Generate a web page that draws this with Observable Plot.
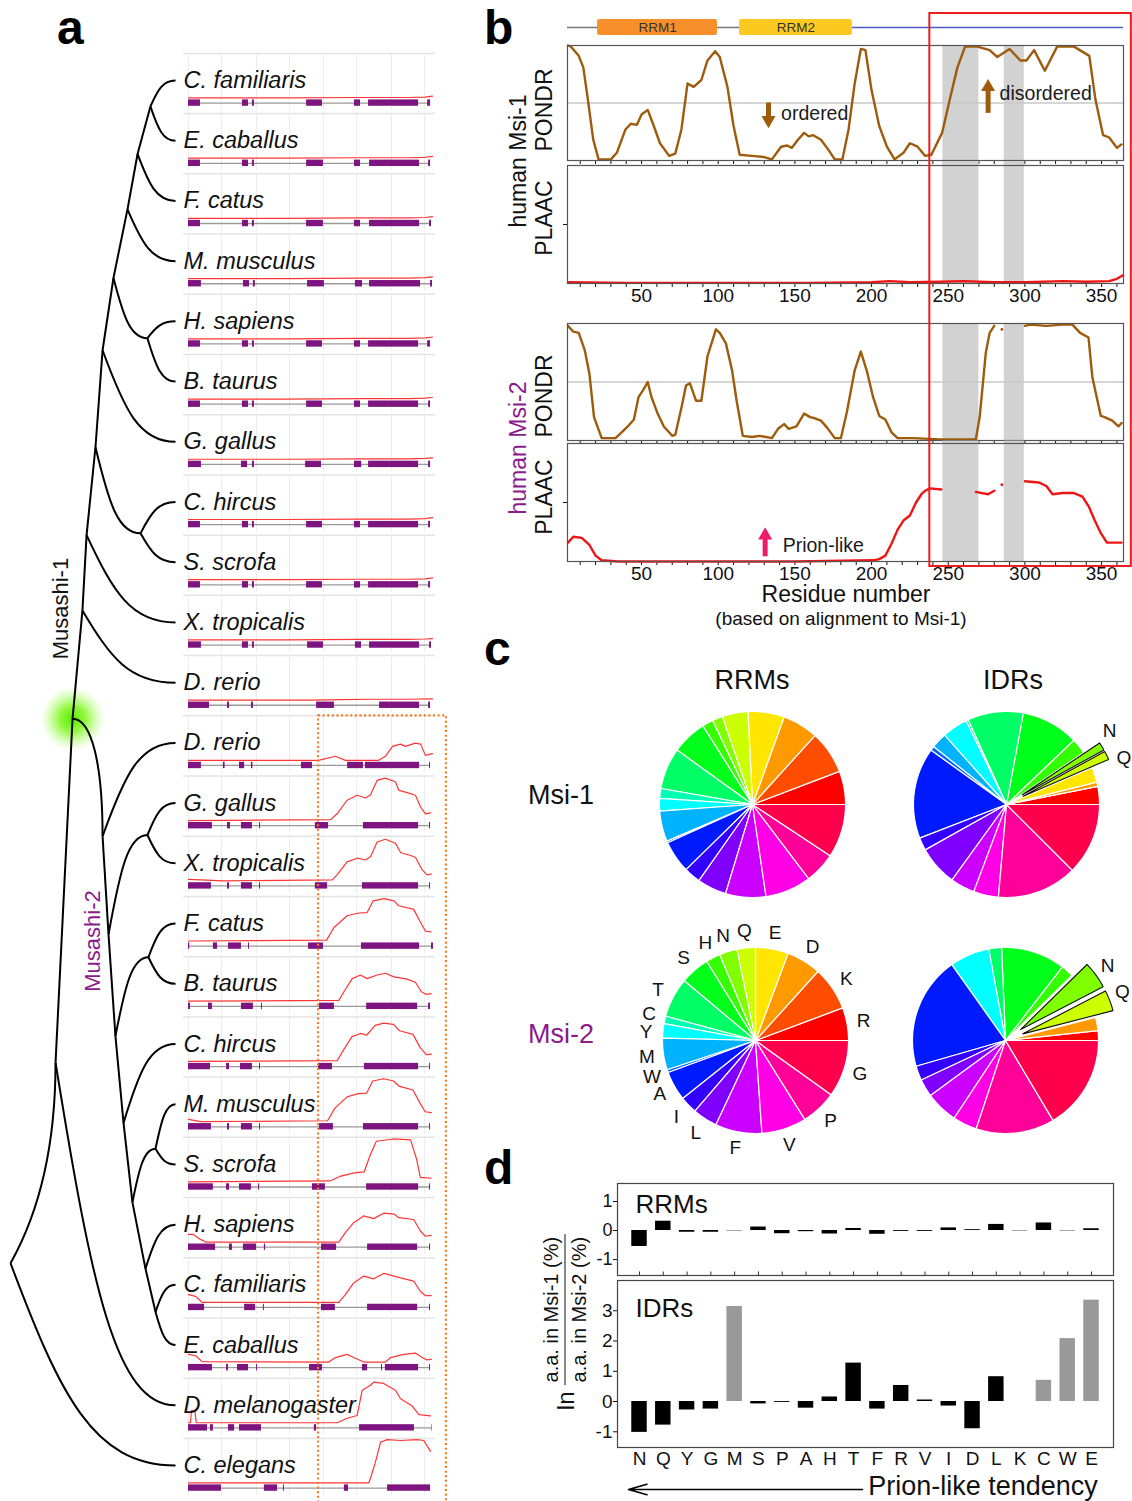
<!DOCTYPE html>
<html><head><meta charset="utf-8">
<script src="https://cdn.jsdelivr.net/npm/d3@7"></script>
<script src="https://cdn.jsdelivr.net/npm/@observablehq/plot@0.6"></script>
<style>
body{margin:0;background:#fff;}
#fig{position:relative;width:1132px;height:1501px;overflow:hidden;font-family:"Liberation Sans",Arial,Helvetica,sans-serif;background:#fff;color:#111;}
#fig svg{background:transparent !important;max-width:none !important;overflow:visible;}
</style></head><body><div id="fig"></div>
<script>
// ---------------- DATA ----------------
// Panel a: species (rows, top to bottom)
const speciesNames = ["C. familiaris","E. caballus","F. catus","M. musculus","H. sapiens","B. taurus","G. gallus","C. hircus","S. scrofa","X. tropicalis","D. rerio",
  "D. rerio","G. gallus","X. tropicalis","F. catus","B. taurus","C. hircus","M. musculus","S. scrofa","H. sapiens","C. familiaris","E. caballus","D. melanogaster","C. elegans"];
// tree internal nodes: depth (0 root .. 1 leaves), row position
const treeNodes = [
  {id:"root",depth:0,row:19.64},{id:"N1",depth:0.273,row:16.31},{id:"msi",depth:0.376,row:10.6},
  {id:"m1H",depth:0.436,row:8.8},{id:"m1G",depth:0.461,row:7.55},{id:"m1F",depth:0.515,row:6.09},{id:"m1E",depth:0.558,row:4.48},
  {id:"m1D",depth:0.624,row:3.28},{id:"m1C",depth:0.709,row:2.14},{id:"m1B",depth:0.770,row:1.22},{id:"m1A",depth:0.848,row:0.43},
  {id:"m1HB",depth:0.830,row:4.28},{id:"m1CS",depth:0.788,row:7.52},
  {id:"m2DR",depth:0.558,row:12.55},{id:"m2GX",depth:0.594,row:14.18},{id:"m2GXc",depth:0.830,row:12.53},
  {id:"m2FB",depth:0.636,row:15.87},{id:"m2FBc",depth:0.836,row:14.56},{id:"m2CH",depth:0.685,row:17.31},
  {id:"m2MS",depth:0.739,row:18.63},{id:"m2MSc",depth:0.879,row:17.74},{id:"m2HS",depth:0.818,row:19.73},{id:"m2CE",depth:0.879,row:20.45}
];
// edges: [from, to (node id or leaf row), kind]
const treeEdges = [
  ["root","N1","up"],["root",23,"leaf"],["N1","msi","straight"],["N1",22,"leaf"],
  ["msi","m1H","straight"],["m1H","m1G","straight"],["m1G","m1F","straight"],["m1F","m1E","straight"],["m1E","m1D","straight"],
  ["m1D","m1C","straight"],["m1C","m1B","straight"],["m1B","m1A","straight"],
  ["m1A",0,"leaf"],["m1A",1,"leaf"],["m1B",2,"leaf"],["m1C",3,"leaf"],["m1D","m1HB","leaf"],["m1HB",4,"leaf"],["m1HB",5,"leaf"],
  ["m1E",6,"leaf"],["m1F","m1CS","leaf"],["m1CS",7,"leaf"],["m1CS",8,"leaf"],["m1G",9,"leaf"],["m1H",10,"leaf"],
  ["msi","m2DR","arc"],["m2DR","m2GX","straight"],["m2GX","m2FB","straight"],["m2FB","m2CH","straight"],["m2CH","m2MS","straight"],
  ["m2MS","m2HS","straight"],["m2HS","m2CE","straight"],
  ["m2DR",11,"leaf"],["m2GX","m2GXc","leaf"],["m2GXc",12,"leaf"],["m2GXc",13,"leaf"],["m2FB","m2FBc","leaf"],["m2FBc",14,"leaf"],["m2FBc",15,"leaf"],
  ["m2CH",16,"leaf"],["m2MS","m2MSc","leaf"],["m2MSc",17,"leaf"],["m2MSc",18,"leaf"],["m2HS",19,"leaf"],["m2CE",20,"leaf"],["m2CE",21,"leaf"]
];
const cladeLabels = [{name:"Musashi-1",depth:0.303,row:8.77},{name:"Musashi-2",depth:0.497,row:14.29}];
// gene structures: exons [start,end] in % of gene length
const exons = [
  [[0,4.9],[22.1,24.6],[26.2,27],[48.4,54.9],[68,70.5],[73.8,94.3],[98,99.2]],
  [[0,4.9],[22.1,24.6],[26.2,27],[48.4,55.3],[68,70.5],[74.2,94.7],[98.4,99.2]],
  [[0,4.9],[22.1,24.6],[26.2,27],[48.4,55.3],[68,70.5],[74.2,94.7],[98.8,99.6]],
  [[0,5.3],[22.5,25],[26.6,27.4],[48.8,55.7],[68.4,71.3],[74.2,95.1],[99.2,100]],
  [[0,4.9],[22.1,24.6],[26.2,27],[48.4,54.9],[68,70.5],[73.8,94.3],[98,99.2]],
  [[0,4.9],[22.1,24.6],[26.2,27],[48.4,54.9],[68,70.5],[73.8,94.3],[98.4,99.2]],
  [[0,5.3],[21.7,24.2],[26.2,27],[48,54.5],[68,71],[73.8,94.3],[98.4,99.2]],
  [[0,4.9],[22.1,24.6],[26.2,27],[48.4,54.9],[68,70.5],[73.8,94.3],[98.4,99.2]],
  [[0,4.9],[22.1,24.6],[26.2,27],[48.4,54.9],[68,70.5],[73.8,94.3],[98.4,99.2]],
  [[0,5.3],[22.1,24.6],[26.2,27],[48.8,55.3],[68.4,70.9],[74.2,94.7],[98.8,99.6]],
  [[0,8.6],[16,16.8],[25.8,26.6],[52.5,59.8],[78.3,94.7],[98.4,99.2]],
  [[0,5.3],[14.3,15],[20.9,23],[25.8,26.4],[46.3,50.8],[65.2,71.7],[72.5,94.7],[98.8,99.2]],
  [[0,9.8],[16,17.2],[21.7,26.2],[29.1,29.5],[52,57.4],[71.7,94.3],[98.8,99.2]],
  [[0,9.4],[16,16.8],[21.7,26.2],[29.1,29.5],[52,57],[71.3,94.3],[98.8,99.2]],
  [[0,0.5],[10.2,11.9],[16.4,21.7],[24.6,25],[49.2,55.3],[70.9,94.7],[99.6,100.4]],
  [[0,0.8],[8.2,9.8],[21.7,26.6],[29.9,30.3],[53.7,59.8],[73,93.9],[98.4,99.2]],
  [[0,9],[15.6,16.8],[21.3,26.2],[29.1,29.5],[53.3,59],[72.1,94.3],[98.8,99.2]],
  [[0,9.4],[16,16.8],[21.7,26.2],[29.1,29.5],[53.7,59.4],[71.7,94.3],[98.8,99.2]],
  [[0,10.2],[15.6,16.8],[20.9,25.8],[28.7,29.1],[50.8,56.1],[73,94.3],[98.8,99.2]],
  [[0,11.1],[16.8,18],[22.5,27.9],[31.1,31.6],[54.5,60.7],[73.4,93.9],[98.8,99.2]],
  [[0,6.6],[23,27.5],[30.7,31.1],[54.5,60.2],[73.4,93.9],[98.8,99.2]],
  [[0,9.8],[15.6,16.4],[20.1,24.6],[27.9,28.3],[49.6,54.9],[71.3,73.4],[79.1,79.5],[80.7,94.3],[98.8,99.2]],
  [[0,7.8],[9,10.2],[16.4,18.9],[20.9,29.9],[51.6,52.5],[70.1,92.6],[99.6,99.8]],
  [[0,13.5],[31.1,36.5],[38.9,39.3],[63.9,65.6],[81.6,99.2]]
];
// PLAAC-like profile per row: [position %, relative height]
const profiles = [
  [[0,0],[40,0],[70,0.01],[90,0.01],[97,0.02],[100,0.04]],
  [[0,0],[40,0],[70,0.01],[90,0.01],[97,0.02],[100,0.04]],
  [[0,0],[40,0],[70,0.01],[90,0.01],[97,0.02],[100,0.04]],
  [[0,0],[40,0],[70,0.01],[90,0.01],[97,0.02],[100,0.04]],
  [[0,0],[40,0],[70,0.01],[90,0.01],[97,0.02],[100,0.04]],
  [[0,0],[40,0],[70,0.01],[90,0.01],[97,0.02],[100,0.04]],
  [[0,0],[40,0],[70,0.01],[90,0.01],[97,0.02],[100,0.03]],
  [[0,0],[40,0],[70,0.01],[90,0.01],[97,0.02],[100,0.04]],
  [[0,0],[40,0],[70,0.01],[90,0.01],[97,0.02],[100,0.04]],
  [[0,0],[40,0],[70,0.01],[90,0.01],[97,0.02],[100,0.03]],
  [[0,0],[50,0],[62,0.01],[75,0.02],[90,0.02],[100,0.03]],
  [[0,0],[53.3,0],[60.2,0.09],[64.3,0],[77.9,0],[80.7,0.09],[83.6,0.31],[86.9,0.36],[88.9,0.31],[93,0.38],[95.1,0.36],[97.1,0.11],[100,0.15]],
  [[0,0],[58.2,0.02],[60.9,0.15],[65,0.45],[69.1,0.56],[72.5,0.5],[74.6,0.57],[77.3,0.89],[80.7,0.94],[84.8,0.86],[86.2,0.67],[89.6,0.62],[93,0.56],[95.1,0.3],[97.1,0.15],[99.2,0.17]],
  [[0,0.03],[5,0.02],[14.3,0],[58.9,0.02],[60.9,0.13],[65,0.42],[69.1,0.5],[72.5,0.46],[74.6,0.53],[77.3,0.86],[80.7,0.92],[84.8,0.83],[87,0.62],[90.4,0.57],[93,0.52],[95.8,0.24],[97.8,0.13],[99.6,0.15]],
  [[0,0],[56.6,0.02],[59.6,0.3],[65,0.56],[69.8,0.62],[73.2,0.63],[75.7,0.89],[80.1,0.94],[84.2,0.89],[86.2,0.78],[92.3,0.7],[95.1,0.41],[97.1,0.22],[99.5,0.2]],
  [[0,0],[61.6,0.02],[63.7,0.21],[67.1,0.5],[70.5,0.58],[73.2,0.5],[77.3,0.58],[80.7,0.62],[84.2,0.54],[89.6,0.49],[93,0.42],[95.4,0.21],[97.5,0.15],[99.5,0.17]],
  [[0,0],[61,0.02],[63.5,0.25],[67,0.55],[70.5,0.62],[73,0.58],[76.5,0.8],[80,0.85],[84,0.82],[86.5,0.68],[92,0.6],[95,0.3],[97.5,0.15],[99.5,0.16]],
  [[0,0.05],[5,0],[57,0.02],[60,0.3],[65,0.55],[69.5,0.62],[73,0.63],[75.5,0.9],[80,0.95],[84,0.9],[86.5,0.78],[92,0.7],[95,0.4],[97,0.22],[99.5,0.2]],
  [[0,0],[58,0.02],[62,0.12],[68,0.2],[72,0.22],[74.5,0.6],[77,0.9],[84,0.95],[91,0.93],[93.5,0.5],[95,0.1],[99.5,0.08]],
  [[0,0.17],[2,0.17],[4.9,0.06],[7,0],[61.6,0],[64.3,0.21],[67.7,0.43],[71.8,0.58],[75.9,0.52],[80,0.64],[84.2,0.62],[86.2,0.54],[92.3,0.5],[95.1,0.24],[97.1,0.13],[99.5,0.15]],
  [[0,0.17],[2.9,0.13],[5.6,0],[61.6,0],[64.3,0.17],[67.7,0.43],[71.8,0.58],[75.9,0.52],[80,0.64],[83.5,0.59],[86.9,0.54],[92.3,0.47],[95.1,0.24],[97.1,0.15],[99.5,0.15]],
  [[0,0.18],[2.9,0.15],[5.6,0.02],[57.5,0.01],[60.2,0.11],[65,0.18],[67.7,0.11],[71.8,0.01],[80.7,0.01],[82.8,0.11],[88.2,0.18],[93,0.21],[95.8,0.11],[97.5,0.06],[99.5,0.07]],
  [[0,0],[0.8,0],[1.2,0.27],[2.6,0.27],[3.2,0],[60.9,0],[65,0.1],[69.1,0.16],[71.2,0.72],[74.6,0.83],[75.9,0.9],[80,0.87],[84.8,0.72],[86.9,0.53],[91.7,0.37],[94.4,0.18],[99.2,0.15]],
  [[0,0],[73.9,0],[74.9,0.16],[76.6,0.46],[78.7,0.9],[81.4,0.96],[86.9,0.94],[93.7,0.96],[96.4,0.94],[99.2,0.7]]
];
const trackGrid = [0,13.5,27.9,41.4,55.3,68.9,83.2,96.7];
const idrBox = {start:53.3, end:105.7, firstRow:10.55, lastRow:23.9};

// Panel b: residue vs score
const pondrMsi1 = [[2,1.0],[4,0.99],[9,0.91],[12,0.81],[15,0.53],[18.5,0.18],[22,0.01],[30,0.01],[34,0.07],[39.5,0.27],[43,0.32],[47,0.31],[50,0.40],[54,0.44],[58,0.30],[62,0.15],[68,0.04],[72,0.06],[76,0.27],[80,0.67],[84,0.64],[89,0.70],[93,0.87],[98,0.95],[101,0.90],[106,0.64],[110,0.30],[114,0.05],[122,0.04],[130,0.03],[135,0.01],[141,0.12],[145,0.13],[148,0.11],[152,0.18],[156,0.24],[159,0.21],[162,0.22],[167,0.18],[172,0.09],[176,0.01],[181,0.01],[185,0.27],[189,0.67],[193,0.97],[196,0.96],[200,0.61],[205,0.30],[210,0.12],[215,0.01],[221,0.07],[225,0.15],[230,0.12],[235,0.04],[239,0.05],[246,0.24],[251,0.53],[256,0.81],[261,0.99],[269,0.99],[277,0.96],[282,0.90],[290,0.97],[297,0.87],[301,0.87],[306,0.96],[313,0.78],[321,0.99],[332,0.99],[342,0.91],[346,0.53],[351,0.22],[355,0.20],[360,0.11],[363,0.14]];
const plaacMsi1 = [[2,0.01],[40,0.005],[100,0.005],[160,0.005],[200,0.01],[212,0.02],[225,0.01],[245,0.015],[260,0.02],[280,0.01],[300,0.01],[325,0.02],[340,0.015],[355,0.02],[360,0.04],[364,0.07]];
const pondrMsi2 = [[2,0.98],[5.5,0.93],[9,0.92],[13,0.77],[16,0.57],[19,0.20],[24,0.02],[33,0.02],[37,0.07],[41,0.12],[45,0.18],[48,0.37],[51,0.43],[54,0.50],[56.5,0.37],[60.5,0.23],[64.5,0.12],[70,0.04],[72,0.05],[76,0.28],[79,0.47],[81.5,0.49],[85.5,0.34],[89,0.34],[93,0.72],[98.5,0.95],[101,0.92],[105,0.83],[109,0.60],[112,0.34],[116,0.04],[122,0.03],[127,0.04],[135,0.02],[139,0.10],[143,0.14],[146,0.10],[151,0.12],[156,0.23],[160,0.20],[163,0.19],[167,0.17],[171,0.11],[176,0.02],[180,0.02],[184,0.25],[189,0.60],[193,0.76],[197,0.59],[201,0.37],[205,0.21],[209,0.18],[213,0.07],[217,0.02],[227,0.02],[245,0.01],[268,0.01],[270.5,0.20],[274.5,0.75],[277,0.92],[280,0.98],[281,null],[285,0.95],[286,null],[300,0.98],[303.5,0.99],[314,0.98],[324.5,0.99],[331,0.99],[336,0.92],[341.5,0.88],[344,0.54],[349.5,0.21],[352,0.20],[357,0.17],[361,0.12],[363,0.15]];
const plaacMsi2 = [[2,0.16],[5.5,0.21],[11,0.20],[16,0.14],[20,0.05],[24,0.01],[35,0],[100,0],[150,0],[201,0.01],[205,0.02],[209,0.05],[213,0.15],[217,0.27],[221,0.35],[225,0.39],[229,0.50],[232.5,0.57],[235,0.60],[238,0.62],[245.5,0.61],[246,null],[268,0.59],[272,0.58],[276,0.57],[280,0.60],[281,null],[285,0.65],[286,null],[300,0.68],[309,0.67],[314,0.64],[318,0.57],[324.5,0.58],[332,0.58],[337.5,0.55],[341.5,0.47],[345.5,0.35],[349.5,0.24],[353.5,0.16],[359,0.16],[363,0.16]];
const domains = [{name:"RRM1",start:21.3,end:99.5},{name:"RRM2",start:113.9,end:187.5}];
const linkerSpan = {start:1.7, end:113.9};
const idrSpan = {start:187.5, end:364.3};
const greyBands = [{start:246.5,end:270},{start:286.5,end:299.6}];
const idrWindow = {start:238, end:369.4};
const bNotes = {
  ordered:{text:"ordered",x:141,y:0.41,ax:132.8,from:0.50,to:0.29},
  disordered:{text:"disordered",x:283.5,y:0.58,ax:276,from:0.41,to:0.70},
  prion:{text:"Prion-like",x:142,y:0.13,ax:130.6,from:0.04,to:0.28}
};

// Panel c: amino-acid composition (%), order R K D E Q N H S T C Y M W A I L F V P G
const aaOrder = ["R","K","D","E","Q","N","H","S","T","C","Y","M","W","A","I","L","F","V","P","G"];
const msi1RRM = [5.8,7.5,6.2,6.3,4.5,1.8,1.9,6.1,7.2,1.7,2.2,5.3,0.3,5.6,2.9,5.1,7.0,8.0,5.4,9.3];
const msi2RRM = [5.7,7.6,6.0,5.7,3.2,3.1,2.5,5.1,6.9,1.3,2.5,5.5,0.5,5.1,3.0,4.3,8.1,7.8,6.2,9.9];
const msi1IDR = [3.1,0,0.75,2.6,1.5,1.4,2.7,9.9,9.6,0.4,4.4,2.7,0.75,15.7,2.2,6.9,4.2,4.3,13.8,12.4];
const msi2IDR = [1.7,0,2.3,0,3.6,4.7,2.2,11.1,2.2,0,6.9,0,0,19.6,2.5,3.1,5.6,4.2,13.6,16.4];
const explodedAA = ["N","Q"];

// Panel d: ln(Msi-1 % / Msi-2 %)
const aaD = ["N","Q","Y","G","M","S","P","A","H","T","F","R","V","I","D","L","K","C","W","E"];
const lnRRM = [-0.55,0.32,-0.06,-0.06,-0.03,0.12,-0.11,-0.04,-0.12,0.07,-0.13,-0.03,-0.03,0.09,0.03,0.21,-0.03,0.26,-0.03,0.06];
const lnIDR = [-1.02,-0.78,-0.28,-0.25,3.14,-0.08,-0.03,-0.22,0.15,1.27,-0.25,0.53,0.05,-0.15,-0.9,0.82,null,0.7,2.08,3.35];
const greyRRM = ["M","K","W"];
const greyIDR = ["M","C","W","E"];

// ---------------- STYLE ----------------
const FONT = '"Liberation Sans", Arial, Helvetica, sans-serif';
const aaPalette = ["#FF0000","#FF4D00","#FF9900","#FFE600","#CCFF00","#80FF00","#33FF00","#00FF1A","#00FF66","#00FFB3","#00FFFF","#00B3FF","#0066FF","#001AFF","#3300FF","#8000FF","#CC00FF","#FF00E6","#FF0099","#FF004D"];
const BROWN = "#9E5B0C", RED = "#EE1515", PURPLE = "#8B1A8B";
const W = 1132;
const fig = document.getElementById("fig");
const baseStyle = (size) => ({fontFamily: FONT, fontSize: size + "px", background: "transparent", overflow: "visible", color: "#111"});

function put(node, left, top) {
  const d = document.createElement("div");
  d.style.cssText = `position:absolute;left:${left}px;top:${top}px;`;
  d.appendChild(node); fig.appendChild(d); return node;
}
function label(text, x, y, size, opts = {}) {
  const d = document.createElement("div");
  d.textContent = text;
  d.style.cssText = `position:absolute;left:${x}px;top:${y}px;font-size:${size}px;white-space:nowrap;line-height:1.1;` +
    `transform:translate(-50%,-50%)${opts.rotate ? ` rotate(${opts.rotate}deg)` : ""};color:${opts.color || "#111"};` +
    (opts.weight ? `font-weight:${opts.weight};` : "");
  fig.appendChild(d); return d;
}
function panelLetter(t, left, top) {
  const d = document.createElement("div");
  d.textContent = t;
  d.style.cssText = `position:absolute;left:${left}px;top:${top}px;font-size:48px;font-weight:bold;line-height:normal;color:#000;`;
  fig.appendChild(d);
}
function bezierCurve(ctrl) {
  return (context) => {
    let pts = [];
    return {
      areaStart() {}, areaEnd() {},
      lineStart() { pts = []; },
      point(x, y) { pts.push([x, y]); },
      lineEnd() {
        if (pts.length < 2) return;
        const [x0, y0] = pts[0], [x1, y1] = pts[pts.length - 1];
        const c = ctrl(x0, y0, x1, y1);
        context.moveTo(x0, y0);
        context.bezierCurveTo(c[0], c[1], c[2], c[3], x1, y1);
      }
    };
  };
}
const sCurve = bezierCurve((x0, y0, x1, y1) => [x0 + 0.3 * (x1 - x0), y0 + 0.65 * (y1 - y0), x0 + 0.5 * (x1 - x0), y1]);
const arcCurve = bezierCurve((x0, y0, x1, y1) => [x0 + 0.65 * (x1 - x0), y0, x1, y1 - 0.6 * (y1 - y0)]);
const upCurve = bezierCurve((x0, y0, x1, y1) => [x0 + 0.5 * (x1 - x0), y0 + 0.2 * (y1 - y0), x1, y1 - 0.5 * (y1 - y0)]);

// ---------------- PANEL A ----------------
const nodeById = new Map(treeNodes.map(n => [n.id, n]));
const posOf = k => typeof k === "number" ? {depth: 1, row: k} : nodeById.get(k);
const edges = treeEdges.map(([a, b, kind]) => ({kind, x1: posOf(a).depth, y1: posOf(a).row, x2: posOf(b).depth, y2: posOf(b).row}));
const linkOpts = {x1: "x1", y1: "y1", x2: "x2", y2: "y2", stroke: "#000", strokeWidth: 2};
const rows = speciesNames.map((name, row) => ({name, row, end: d3.max(exons[row], e => e[1])}));

const treePlot = Plot.plot({
  width: 450, height: 1501, margin: 0,
  x: {domain: [0, 1], range: [10, 175], axis: null},
  y: {domain: [0, 23], range: [80, 1465], axis: null},
  style: baseStyle(22),
  marks: [
    Plot.dot([nodeById.get("msi")], {x: "depth", y: "row", r: 32, fill: "url(#glowGrad)", stroke: "none"}),
    Plot.link(edges.filter(e => e.kind === "straight"), linkOpts),
    Plot.link(edges.filter(e => e.kind === "leaf"), {...linkOpts, curve: sCurve}),
    Plot.link(edges.filter(e => e.kind === "arc"), {...linkOpts, curve: arcCurve}),
    Plot.link(edges.filter(e => e.kind === "up"), {...linkOpts, curve: upCurve}),
    Plot.text(cladeLabels.slice(0, 1), {x: "depth", y: "row", text: "name", rotate: -90, fontSize: 22, fill: "#111"}),
    Plot.text(cladeLabels.slice(1), {x: "depth", y: "row", text: "name", rotate: -90, fontSize: 22, fill: PURPLE})
  ]
});
const defs = document.createElementNS("http://www.w3.org/2000/svg", "defs");
defs.innerHTML = '<radialGradient id="glowGrad"><stop offset="0%" stop-color="#55ee00" stop-opacity="1"/><stop offset="40%" stop-color="#77f511" stop-opacity="0.8"/><stop offset="100%" stop-color="#aaff66" stop-opacity="0"/></radialGradient>';
treePlot.insertBefore(defs, treePlot.firstChild);
put(treePlot, 0, 0);

const gridData = rows.flatMap(r => trackGrid.map(p => ({row: r.row, p})));
const exonTable = exons.flatMap((ex, row) => ex.map(([s, e]) => ({row, s, e})));
const profTable = profiles.flatMap((pr, row) => pr.map(([p, v]) => ({row, p, v})));
const trackPlot = Plot.plot({
  width: 450, height: 1501, margin: 0,
  x: {domain: [0, 100], range: [188, 432], axis: null},
  y: {domain: [0, 23], range: [80, 1465], axis: null},
  style: baseStyle(22),
  marks: [
    Plot.ruleX(gridData, {x: "p", y1: d => d.row - 0.45, y2: d => d.row + 0.5, stroke: "#ececec", strokeWidth: 1}),
    Plot.ruleY(rows, {y: d => d.row - 0.45, x1: -2, x2: 101.2, stroke: "#e4e4e4", strokeWidth: 1.5}),
    Plot.ruleY(rows, {y: d => d.row + 0.375, x1: 0, x2: "end", stroke: "#9a9a9a", strokeWidth: 1.3}),
    Plot.rect(exonTable, {x1: "s", x2: "e", y1: d => d.row + 0.322, y2: d => d.row + 0.428, fill: "#7E1480"}),
    Plot.line(profTable, {x: "p", y: d => d.row + 0.29 - 0.75 * d.v, z: "row", stroke: "#FF3535", strokeWidth: 1.2}),
    Plot.text(rows, {x: () => -2.05, y: "row", text: "name", textAnchor: "start", fontStyle: "italic", fontSize: 23.5, fill: "#111"}),
    Plot.rect([idrBox], {x1: "start", x2: "end", y1: "firstRow", y2: "lastRow", fill: "none", stroke: "#F47B20", strokeWidth: 2.2, strokeDasharray: "2,2.6"})
  ]
});
put(trackPlot, 0, 0);

// ---------------- PANEL B ----------------
const xRes = (labels) => ({domain: [1.7, 364.3], ticks: d3.range(10, 361, 10), tickSize: 4, tickPadding: 1,
  tickFormat: d => labels && d % 50 === 0 ? String(d) : "", label: null});
const toObj = arr => arr.map(([x, y]) => ({x, y}));
const isolated = arr => arr.filter((d, i) => d[1] != null && (i === 0 || arr[i - 1][1] == null) && (i === arr.length - 1 || arr[i + 1][1] == null)).map(([x, y]) => ({x, y}));
function bandMarks(y1, y2) {
  return Plot.rect(greyBands, {x1: "start", x2: "end", y1: () => y1, y2: () => y2, fill: "#d2d2d2"});
}
function arrowMarks(n, color, dir) {
  return [
    Plot.ruleX([n], {x: "ax", y1: "from", y2: d => dir === "up" ? d.to - 0.08 : d.to + 0.08, stroke: color, strokeWidth: 5}),
    Plot.dot([n], {x: "ax", y: "to", symbol: "triangle", r: 5.2, fill: color, stroke: "none", rotate: dir === "up" ? 0 : 180, dy: dir === "up" ? 7 : -7}),
    Plot.text([n], {x: "x", y: "y", text: "text", textAnchor: "start", fontSize: 19.5, fill: "#1a1a1a"})
  ];
}
function bPlot(frameTop, frameH, mt, mb, labels, yopts, marks) {
  const p = Plot.plot({
    width: W, height: mt + frameH + mb, marginLeft: 567, marginRight: W - 1123, marginTop: mt, marginBottom: mb,
    x: xRes(labels), y: {domain: [0, 1], ...yopts},
    style: baseStyle(19),
    marks: [...marks, Plot.frame({stroke: "#555", strokeWidth: 1.2})]
  });
  put(p, 0, frameTop - mt);
}
// domain architecture bar
put(Plot.plot({
  width: W, height: 20, marginLeft: 567, marginRight: W - 1123, marginTop: 0, marginBottom: 0,
  x: {domain: [1.7, 364.3], axis: null}, y: {domain: [0, 1], axis: null},
  style: baseStyle(13),
  marks: [
    Plot.ruleY([linkerSpan], {y: () => 0.5, x1: "start", x2: "end", stroke: "#777", strokeWidth: 1.5}),
    Plot.ruleY([idrSpan], {y: () => 0.5, x1: "start", x2: "end", stroke: "#4A5CC8", strokeWidth: 1.5}),
    Plot.rect(domains.slice(0, 1), {x1: "start", x2: "end", y1: 0.1, y2: 0.9, fill: "#F78F2B", rx: 2}),
    Plot.rect(domains.slice(1), {x1: "start", x2: "end", y1: 0.1, y2: 0.9, fill: "#FBC920", rx: 2}),
    Plot.text(domains, {x: d => (d.start + d.end) / 2, y: () => 0.5, text: "name", fontSize: 13.5, fill: "#333"})
  ]
}), 0, 17);

bPlot(45, 115, 5, 6, false, {axis: null}, [
  bandMarks(-0.05, 1),
  Plot.ruleY([0.5], {stroke: "#c8c8c8", strokeWidth: 1.5}),
  Plot.line(toObj(pondrMsi1), {x: "x", y: "y", stroke: BROWN, strokeWidth: 2.4}),
  ...arrowMarks(bNotes.ordered, BROWN, "down"),
  ...arrowMarks(bNotes.disordered, BROWN, "up")
]);
bPlot(165, 118, 2, 26, true, {ticks: [0.5], tickSize: 4, tickFormat: () => "", label: null}, [
  bandMarks(0, 1.03),
  Plot.line(toObj(plaacMsi1), {x: "x", y: "y", stroke: RED, strokeWidth: 2.4})
]);
bPlot(323, 117, 5, 5, false, {axis: null}, [
  bandMarks(-0.03, 1),
  Plot.ruleY([0.5], {stroke: "#c8c8c8", strokeWidth: 1.5}),
  Plot.line(toObj(pondrMsi2), {x: "x", y: "y", stroke: BROWN, strokeWidth: 2.4}),
  Plot.dot(isolated(pondrMsi2), {x: "x", y: "y", r: 1.3, fill: BROWN, stroke: "none"})
]);
bPlot(443, 118, 2, 26, true, {ticks: [0.5], tickSize: 4, tickFormat: () => "", label: null}, [
  bandMarks(0, 1.02),
  Plot.line(toObj(plaacMsi2), {x: "x", y: "y", stroke: RED, strokeWidth: 2.4}),
  Plot.dot(isolated(plaacMsi2), {x: "x", y: "y", r: 1.4, fill: RED, stroke: "none"}),
  ...arrowMarks(bNotes.prion, "#EE1A6A", "up")
]);
// IDR window box
put(Plot.plot({
  width: W, height: 553, marginLeft: 567, marginRight: W - 1123, marginTop: 0, marginBottom: 0,
  x: {domain: [1.7, 364.3], axis: null}, y: {domain: [0, 1], axis: null},
  style: baseStyle(12),
  marks: [Plot.rect([idrWindow], {x1: "start", x2: "end", y1: 0, y2: 1, fill: "none", stroke: "#EE1C1C", strokeWidth: 2})]
}), 0, 13);
label("human Msi-1", 519, 161, 23, {rotate: -90});
label("PONDR", 545, 110, 23, {rotate: -90});
label("PLAAC", 545, 218, 23, {rotate: -90});
label("human Msi-2", 519, 448, 23, {rotate: -90, color: PURPLE});
label("PONDR", 545, 396, 23, {rotate: -90});
label("PLAAC", 545, 497, 23, {rotate: -90});
label("Residue number", 846, 595, 23);
label("(based on alignment to Msi-1)", 841, 619, 19);

// ---------------- PANEL C ----------------
function spreadAngles(labs, minSep) {
  labs.sort((a, b) => a.ang - b.ang);
  for (let it = 0; it < 20; it++) {
    for (let i = 1; i < labs.length; i++) {
      const gap = labs[i].ang - labs[i - 1].ang;
      if (gap < minSep) { const push = (minSep - gap) / 2; labs[i].ang += push; labs[i - 1].ang -= push; }
    }
  }
  return labs;
}
function piePlot(values, cx, cy, withLetters, explode) {
  const total = d3.sum(values);
  let acc = 0;
  const slices = [];
  aaOrder.forEach((aa, i) => {
    const a0 = acc / total * 2 * Math.PI; acc += values[i]; const a1 = acc / total * 2 * Math.PI;
    if (a1 > a0) slices.push({aa, color: aaPalette[i], a0, a1, ex: explode && explodedAA.includes(aa)});
  });
  const pts = [];
  for (const s of slices) {
    const mid = (s.a0 + s.a1) / 2, off = s.ex ? 0.2 : 0;
    const ox = off * Math.cos(mid), oy = off * Math.sin(mid);
    pts.push({aa: s.aa, color: s.color, ex: s.ex, x: ox, y: oy});
    const n = Math.max(2, Math.ceil((s.a1 - s.a0) / (Math.PI / 180)));
    for (let k = 0; k <= n; k++) {
      const a = s.a0 + (s.a1 - s.a0) * k / n;
      pts.push({aa: s.aa, color: s.color, ex: s.ex, x: ox + Math.cos(a), y: oy + Math.sin(a)});
    }
  }
  let labs = [];
  if (withLetters) {
    labs = spreadAngles(slices.map(s => ({aa: s.aa, ang: (s.a0 + s.a1) / 2, r: 1.18})), 9.5 * Math.PI / 180);
  } else if (explode) {
    const ex = slices.filter(s => s.ex);
    const m = (d3.min(ex, s => s.a0) + d3.max(ex, s => s.a1)) / 2, half = 6.8 * Math.PI / 180;
    labs = ex.map(s => ({aa: s.aa, ang: s.aa === "N" ? m + half : m - half, r: 1.36}));
  }
  labs = labs.map(l => ({aa: l.aa, x: l.r * Math.cos(l.ang), y: l.r * Math.sin(l.ang)}));
  const size = 280;
  const p = Plot.plot({
    width: size, height: size, margin: 0,
    x: {domain: [-1.505, 1.505], axis: null}, y: {domain: [-1.505, 1.505], axis: null},
    color: {type: "identity"},
    style: baseStyle(19),
    marks: [
      Plot.line(pts.filter(d => !d.ex), {x: "x", y: "y", z: "aa", fill: "color", stroke: "#fff", strokeWidth: 1.2, curve: "linear-closed"}),
      Plot.line(pts.filter(d => d.ex), {x: "x", y: "y", z: "aa", fill: "color", stroke: "#111", strokeWidth: 1.1, curve: "linear-closed"}),
      Plot.text(labs, {x: "x", y: "y", text: "aa", fontSize: 19, fill: "#111"})
    ]
  });
  put(p, cx - size / 2, cy - size / 2);
}
piePlot(msi1RRM, 752, 804, false, false);
piePlot(msi1IDR, 1006, 804, false, true);
piePlot(msi2RRM, 755, 1040, true, false);
piePlot(msi2IDR, 1005, 1040, false, true);
label("RRMs", 752, 681, 27);
label("IDRs", 1013, 681, 27);
label("Msi-1", 561, 796, 27);
label("Msi-2", 561, 1035, 27, {color: PURPLE});

// ---------------- PANEL D ----------------
const fmtTick = d => d < 0 ? "-" + (-d) : String(d);
function dPlot(frameTop, frameH, mt, mb, yDomain, ticks, values, greys, title, titleDy, showX) {
  const data = aaD.map((aa, i) => ({aa, v: values[i], grey: greys.includes(aa)})).filter(d => d.v != null);
  const xBase = {domain: aaD, paddingInner: 0.35, paddingOuter: 0.6, round: false};
  const p = Plot.plot({
    width: W, height: mt + frameH + mb, marginLeft: 617, marginRight: W - 1113, marginTop: mt, marginBottom: mb,
    x: showX ? {...xBase, tickSize: 0, tickPadding: 4, label: null} : {...xBase, axis: null},
    y: {domain: yDomain, ticks, tickSize: 4, tickPadding: 1, tickFormat: fmtTick, label: null},
    style: baseStyle(showX ? 19 : 18),
    marks: [
      Plot.barY(data.filter(d => !d.grey), {x: "aa", y: "v", fill: "#000"}),
      Plot.barY(data.filter(d => d.grey), {x: "aa", y: "v", fill: "#999"}),
      ...(showX ? [] : [Plot.ruleX(aaD, {x: d => d, y1: yDomain[0], y2: yDomain[0] + 0.12, stroke: "#333"})]),
      Plot.text([title], {frameAnchor: "top-left", text: d => d, dx: 18, dy: titleDy, textAnchor: "start", lineAnchor: "middle", fontSize: 26, fill: "#111"}),
      Plot.frame({stroke: "#444", strokeWidth: 1.2})
    ]
  });
  put(p, 0, frameTop - mt);
}
dPlot(1183, 92, 5, 4, [-1.55, 1.62], [-1, 0, 1], lnRRM, greyRRM, "RRMs", 21, false);
dPlot(1280, 167, 4, 30, [-1.52, 4.0], [-1, 0, 1, 2, 3], lnIDR, greyIDR, "IDRs", 28, true);
// prion-like tendency arrow
put(Plot.plot({
  width: 250, height: 20, margin: 0,
  x: {domain: [0, 1], range: [8, 242], axis: null}, y: {domain: [0, 1], axis: null},
  style: baseStyle(12),
  marks: [Plot.arrow([{x1: 1, x2: 0}], {x1: "x1", x2: "x2", y1: () => 0.5, y2: () => 0.5, stroke: "#000", strokeWidth: 1.6, headLength: 18, headAngle: 32})]
}), 620, 1479);
label("Prion-like tendency", 983, 1487, 27);
// y label (ln fraction)
const yl = document.createElement("div");
yl.style.cssText = "position:absolute;left:565px;top:1322px;transform:translate(-50%,-50%) rotate(-90deg);display:flex;align-items:center;white-space:nowrap;color:#111;";
yl.innerHTML = '<span style="font-size:24px;margin-right:6px">ln</span><span style="display:inline-flex;flex-direction:column;align-items:center;font-size:20px;line-height:1.15"><span style="border-bottom:1.5px solid #111;padding:0 3px 2px">a.a. in Msi-1 (%)</span><span style="padding-top:2px">a.a. in Msi-2 (%)</span></span>';
fig.appendChild(yl);

// panel letters
panelLetter("a", 57, 0);
panelLetter("b", 484, 0);
panelLetter("c", 484, 621);
panelLetter("d", 484, 1140);
</script></body></html>
